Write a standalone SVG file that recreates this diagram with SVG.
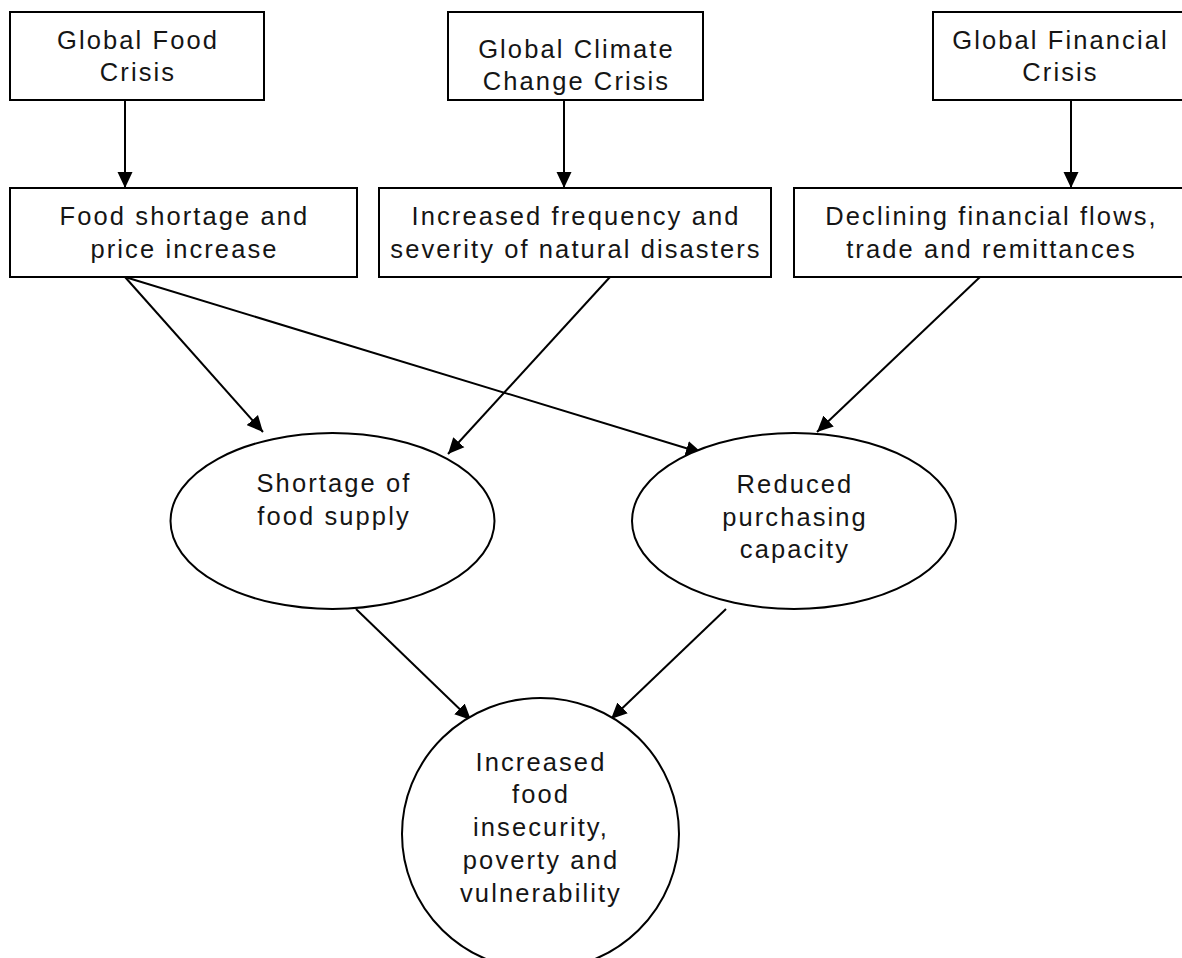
<svg xmlns="http://www.w3.org/2000/svg" width="1182" height="958" viewBox="0 0 1182 958">
<style>
.box{fill:#fff;stroke:#000;stroke-width:2}
.ell{fill:#fff;stroke:#000;stroke-width:2}
.lbl{font-family:"Liberation Sans",Arial,sans-serif;font-size:25.5px;letter-spacing:2.1px;fill:#151515;text-anchor:middle}
.con{stroke:#000;stroke-width:2;fill:none;marker-end:url(#ah)}
</style>
<defs>
<marker id="ah" markerUnits="userSpaceOnUse" markerWidth="17" markerHeight="16" refX="16" refY="8" orient="auto">
<path d="M0,0.5 L16,8 L0,15.5 z" fill="#000"/>
</marker>
</defs>
<rect width="1182" height="958" fill="#fff"/>
<g id="connectors">
<line class="con" x1="125" y1="100" x2="125" y2="188"/>
<line class="con" x1="564" y1="100" x2="564" y2="188"/>
<line class="con" x1="1071" y1="100" x2="1071" y2="188"/>
<line class="con" x1="125" y1="277" x2="263" y2="432"/>
<line class="con" x1="125" y1="277" x2="702" y2="453"/>
<line class="con" x1="610" y1="277" x2="448" y2="454"/>
<line class="con" x1="980" y1="277" x2="817" y2="432"/>
<line class="con" x1="356" y1="609" x2="471" y2="720"/>
<line class="con" x1="726" y1="609" x2="611" y2="719"/>
</g>
<g id="n-food-crisis">
<rect class="box" x="10" y="12" width="254" height="88"/>
<text class="lbl" x="138" y="49">Global Food</text>
<text class="lbl" x="138" y="81">Crisis</text>
</g>
<g id="n-climate-crisis">
<rect class="box" x="448" y="12" width="255" height="88"/>
<text class="lbl" x="576.5" y="58">Global Climate</text>
<text class="lbl" x="576.5" y="90">Change Crisis</text>
</g>
<g id="n-financial-crisis">
<rect class="box" x="933" y="12" width="254" height="88"/>
<text class="lbl" x="1060.5" y="49">Global Financial</text>
<text class="lbl" x="1060.5" y="81">Crisis</text>
</g>
<g id="n-food-shortage">
<rect class="box" x="10" y="188" width="347" height="89"/>
<text class="lbl" x="184.5" y="225">Food shortage and</text>
<text class="lbl" x="184.5" y="258">price increase</text>
</g>
<g id="n-disasters">
<rect class="box" x="379" y="188" width="392" height="89"/>
<text class="lbl" x="576" y="225">Increased frequency and</text>
<text class="lbl" x="576" y="258">severity of natural disasters</text>
</g>
<g id="n-financial-flows">
<rect class="box" x="794" y="188" width="393" height="89"/>
<text class="lbl" x="991.5" y="225">Declining financial flows,</text>
<text class="lbl" x="991.5" y="258">trade and remittances</text>
</g>
<g id="n-food-supply">
<ellipse class="ell" cx="332.5" cy="521" rx="162" ry="88"/>
<text class="lbl" x="334" y="492">Shortage of</text>
<text class="lbl" x="334" y="525">food supply</text>
</g>
<g id="n-purchasing">
<ellipse class="ell" cx="794" cy="521" rx="162" ry="88"/>
<text class="lbl" x="795" y="493">Reduced</text>
<text class="lbl" x="795" y="526">purchasing</text>
<text class="lbl" x="795" y="558">capacity</text>
</g>
<g id="n-insecurity">
<ellipse class="ell" cx="540.5" cy="834" rx="138.5" ry="136"/>
<text class="lbl" x="541" y="771">Increased</text>
<text class="lbl" x="541" y="803">food</text>
<text class="lbl" x="541" y="836">insecurity,</text>
<text class="lbl" x="541" y="869">poverty and</text>
<text class="lbl" x="541" y="902">vulnerability</text>
</g>
</svg>
